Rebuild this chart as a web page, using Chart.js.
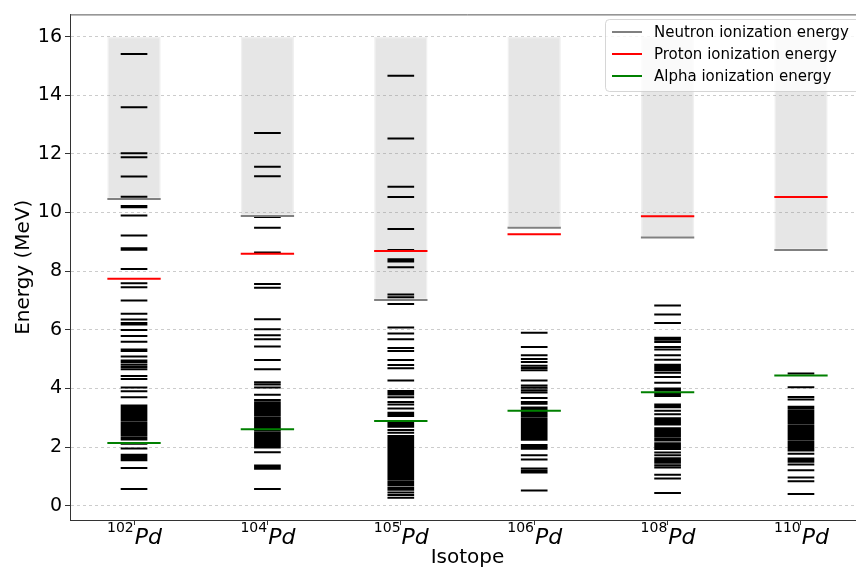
<!DOCTYPE html>
<html>
<head>
<meta charset="utf-8">
<script src="https://cdn.jsdelivr.net/npm/chart.js@4/dist/chart.umd.min.js"></script>
<style>
  html, body { margin: 0; padding: 0; background: #fff; overflow: hidden; }
  canvas { display: block; }
</style>
</head>
<body>
<canvas id="levelChart" width="865" height="570"></canvas>
<script>
// isotopes on the x axis
const massNumbers = ["102", "104", "105", "106", "108", "110"];
const element = "Pd";
const yTicks = [0, 2, 4, 6, 8, 10, 12, 14, 16];
const boxTop = 16;

// separation energies (MeV)
const neutronSep = [10.46, 9.88, 7.02, 9.48, 9.15, 8.72];
const protonSep = [7.74, 8.59, 8.69, 9.26, 9.87, 10.53];
const alphaSep = [2.14, 2.61, 2.89, 3.24, 3.87, 4.44];

// excited levels (MeV)
const levels102 = [15.41, 13.59, 12.02, 11.89, 11.23, 10.54, 10.22, 10.18, 9.90, 9.22, 8.78, 8.73, 8.07,
  7.59, 7.45, 7.00, 6.55, 6.35, 6.23, 6.18, 5.99, 5.79, 5.59, 5.33, 5.28, 5.09, 4.95, 4.89, 4.81, 4.73,
  4.65, 4.42, 4.32, 4.03, 3.90, 3.70, 3.42, 3.36, 3.30, 3.23, 3.17, 3.11, 3.04, 2.97, 2.91, 2.84, 2.78,
  2.71, 2.65, 2.58, 2.52, 2.45, 2.39, 2.32, 2.26, 2.11, 1.95, 1.74, 1.68, 1.62, 1.55, 1.28, 0.57];
const levels104 = [12.71, 11.56, 11.24, 9.85, 9.48, 8.64, 7.56, 7.43, 6.36, 6.02, 5.81, 5.68, 5.43, 4.97,
  4.65, 4.21, 4.13, 4.03, 3.78, 3.60, 3.53, 3.47, 3.40, 3.34, 3.27, 3.21, 3.14, 3.08, 3.01, 2.95, 2.88,
  2.82, 2.75, 2.69, 2.62, 2.56, 2.49, 2.43, 2.36, 2.30, 2.23, 2.17, 2.11, 2.04, 1.98, 1.82, 1.37, 1.32,
  1.26, 0.57];
const levels105 = [14.67, 12.53, 10.88, 10.53, 9.44, 8.72, 8.41, 8.37, 8.33, 8.13, 7.20, 7.11, 7.02, 6.88,
  6.08, 5.87, 5.68, 5.38, 5.28, 4.97, 4.80, 4.69, 4.27, 3.91, 3.85, 3.79, 3.70, 3.54, 3.45, 3.31, 3.17,
  3.11, 3.06, 2.86, 2.80, 2.74, 2.69, 2.58, 2.49, 2.38, 2.32, 2.27, 2.22, 2.15, 2.09, 2.03, 1.97, 1.91,
  1.85, 1.79, 1.73, 1.67, 1.61, 1.55, 1.49, 1.43, 1.37, 1.31, 1.25, 1.19, 1.12, 1.06, 1.00, 0.94, 0.88,
  0.81, 0.75, 0.69, 0.60, 0.54, 0.45, 0.36, 0.27];
const levels106 = [5.90, 5.41, 5.13, 5.00, 4.90, 4.77, 4.70, 4.62, 4.27, 4.10, 4.02, 3.94, 3.86, 3.67,
  3.54, 3.48, 3.35, 3.29, 3.22, 3.16, 3.09, 3.03, 2.96, 2.90, 2.83, 2.77, 2.70, 2.64, 2.57, 2.51, 2.44,
  2.38, 2.31, 2.25, 2.07, 2.00, 1.94, 1.72, 1.57, 1.27, 1.19, 1.13, 0.52];
const levels108 = [6.83, 6.52, 6.23, 5.73, 5.66, 5.58, 5.41, 5.33, 5.13, 4.98, 4.81, 4.74, 4.67, 4.62,
  4.53, 4.39, 4.19, 4.00, 3.93, 3.81, 3.74, 3.45, 3.40, 3.36, 3.24, 3.12, 2.98, 2.92, 2.88, 2.81, 2.77,
  2.64, 2.58, 2.52, 2.47, 2.41, 2.37, 2.29, 2.22, 2.13, 2.06, 2.00, 1.93, 1.81, 1.72, 1.62, 1.55, 1.50,
  1.46, 1.38, 1.30, 1.05, 0.93, 0.43];
const levels110 = [4.51, 4.04, 3.71, 3.62, 3.37, 3.31, 3.24, 3.18, 3.11, 3.05, 2.98, 2.92, 2.85, 2.79,
  2.72, 2.66, 2.59, 2.53, 2.46, 2.40, 2.33, 2.27, 2.20, 2.14, 2.07, 2.01, 1.94, 1.88, 1.77, 1.61, 1.55,
  1.50, 1.40, 1.21, 0.96, 0.83, 0.40];

const allLevels = [levels102, levels104, levels105, levels106, levels108, levels110];

const levelHalf = 0.1;
const sepHalf = 0.2;

/**
 * kort vågrätt streck per värde, brutet med null
 */
function segments(values, half) {
    const pts = [];
    values.forEach((v, i) => {
        pts.push({x: i - half, y: v}, {x: i + half, y: v}, {x: i, y: null});
    });
    return pts;
}

function levelSegments() {
    const pts = [];
    allLevels.forEach((list, i) => {
        list.forEach(e => {
            pts.push({x: i - levelHalf, y: e}, {x: i + levelHalf, y: e}, {x: i, y: null});
        });
    });
    return pts;
}

const legendItems = [
    {label: "Neutron ionization energy", color: "#808080"},
    {label: "Proton ionization energy", color: "#ff0000"},
    {label: "Alpha ionization energy", color: "#008000"}
];

const extras = {
    id: "extras",
    afterDraw(chart) {
        const {ctx, chartArea, scales} = chart;
        ctx.save();
        // top spine
        ctx.strokeStyle = "#555";
        ctx.lineWidth = 1;
        ctx.beginPath();
        ctx.moveTo(chartArea.left, chartArea.top + 0.5);
        ctx.lineTo(chartArea.right, chartArea.top + 0.5);
        ctx.stroke();

        // x tick labels: superscript mass number + italic symbol
        ctx.fillStyle = "#000";
        ctx.textBaseline = "alphabetic";
        ctx.textAlign = "left";
        massNumbers.forEach((m, i) => {
            const px = scales.x.getPixelForValue(i);
            ctx.font = "14px 'DejaVu Sans'";
            const wSup = ctx.measureText(m).width;
            ctx.font = "italic 22px 'DejaVu Sans'";
            const wEl = ctx.measureText(element).width;
            const start = px - (wSup + wEl) / 2;
            ctx.font = "14px 'DejaVu Sans'";
            ctx.fillText(m, start, 532);
            ctx.font = "italic 22px 'DejaVu Sans'";
            ctx.fillText(element, start + wSup + 1, 544);
        });

        // legend
        const lx = 605, ly = 19, lw = 256, lh = 72;
        ctx.beginPath();
        ctx.roundRect(lx + 0.5, ly + 0.5, lw, lh, 4);
        ctx.fillStyle = "rgba(255,255,255,0.8)";
        ctx.fill();
        ctx.strokeStyle = "rgba(204,204,204,0.8)";
        ctx.lineWidth = 1;
        ctx.stroke();
        ctx.font = "15px 'DejaVu Sans'";
        ctx.textBaseline = "middle";
        legendItems.forEach((it, k) => {
            const y = 32 + k * 22;
            ctx.strokeStyle = it.color;
            ctx.lineWidth = 2;
            ctx.beginPath();
            ctx.moveTo(612, y);
            ctx.lineTo(642, y);
            ctx.stroke();
            ctx.fillStyle = "#000";
            ctx.fillText(it.label, 654, y + 1);
        });
        ctx.restore();
    }
};

Chart.defaults.font.family = "'DejaVu Sans'";
Chart.defaults.color = "#000";

const ctx = document.querySelector("#levelChart");
new Chart(ctx, {
    type: "scatter",
    data: {
        datasets: [
            {
                type: "bar",
                label: "box",
                data: neutronSep.map((s, i) => ({x: i, y: [s, boxTop]})),
                backgroundColor: "rgba(128,128,128,0.2)",
                borderColor: "rgba(128,128,128,0.12)",
                borderWidth: 1.5,
                borderSkipped: false,
                categoryPercentage: 1,
                barPercentage: 0.4,
                order: 10
            },
            {
                label: "levels",
                data: levelSegments(),
                showLine: true,
                spanGaps: false,
                borderColor: "#000",
                borderWidth: 2,
                pointRadius: 0,
                order: 3
            },
            {
                label: "Neutron ionization energy",
                data: segments(neutronSep, sepHalf),
                showLine: true,
                spanGaps: false,
                borderColor: "#808080",
                borderWidth: 2,
                pointRadius: 0,
                order: 2
            },
            {
                label: "Proton ionization energy",
                data: segments(protonSep, sepHalf),
                showLine: true,
                spanGaps: false,
                borderColor: "#ff0000",
                borderWidth: 2,
                pointRadius: 0,
                order: 1
            },
            {
                label: "Alpha ionization energy",
                data: segments(alphaSep, sepHalf),
                showLine: true,
                spanGaps: false,
                borderColor: "#008000",
                borderWidth: 2,
                pointRadius: 0,
                order: 0
            }
        ]
    },
    options: {
        responsive: false,
        animation: false,
        layout: {padding: {top: 12, right: 0, left: 0, bottom: 0}},
        plugins: {legend: {display: false}, tooltip: {enabled: false}},
        scales: {
            x: {
                type: "linear",
                min: -0.48,
                max: 5.48,
                offset: false,
                afterBuildTicks: s => { s.ticks = massNumbers.map((m, i) => ({value: i})); },
                afterFit: s => { s.height = 50; },
                ticks: {display: false},
                grid: {offset: false, drawOnChartArea: false, tickLength: 5, tickColor: "#333"},
                border: {color: "#333", width: 1},
                title: {display: true, text: "Isotope", font: {size: 20}, padding: {top: 0, bottom: 0}}
            },
            y: {
                min: -0.49,
                max: 16.76,
                afterBuildTicks: s => { s.ticks = yTicks.map(v => ({value: v})); },
                afterFit: s => { s.width = 70; },
                ticks: {font: {size: 19}, padding: 3},
                grid: {color: "rgba(0,0,0,0.2)", lineWidth: 1, tickLength: 5, tickColor: "#333"},
                border: {color: "#333", width: 1, dash: [3, 3]},
                title: {display: true, text: "Energy (MeV)", font: {size: 20}, padding: {top: 12, bottom: 0}}
            }
        }
    },
    plugins: [extras]
});
</script>
</body>
</html>
